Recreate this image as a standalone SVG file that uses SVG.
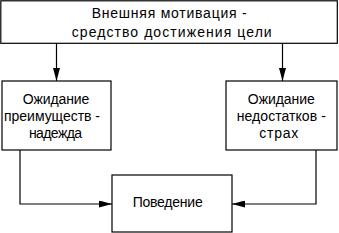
<svg xmlns="http://www.w3.org/2000/svg" width="339" height="233" viewBox="0 0 339 233">
<style>
.box{fill:#fff;stroke:#000;stroke-width:1.2}
.t{font-family:"Liberation Sans",Arial,sans-serif;font-size:14px;fill:#000;text-anchor:middle}
.c{fill:none;stroke:#000;stroke-width:1.2}
</style>
<defs>
<marker id="ah" viewBox="0 0 13 7" refX="13" refY="3.5" markerWidth="13" markerHeight="7" markerUnits="userSpaceOnUse" orient="auto">
<path d="M0,0 L13,3.5 L0,7 Z" fill="#000"/>
</marker>
</defs>
<rect width="339" height="233" fill="#fff"/>
<g id="top">
<rect class="box" x="0.8" y="0.8" width="336.5" height="42.5"/>
<text class="t" x="169.2" y="18.3" textLength="155" lengthAdjust="spacing">Внешняя мотивация -</text>
<text class="t" x="171.7" y="37.3" textLength="200" lengthAdjust="spacing">средство достижения цели</text>
</g>
<g id="left">
<rect class="box" x="2" y="81" width="109" height="69"/>
<text class="t" x="56" y="104.3" textLength="66.7" lengthAdjust="spacing">Ожидание</text>
<text class="t" x="52" y="121" textLength="96" lengthAdjust="spacing">преимуществ -</text>
<text class="t" x="55.5" y="138" textLength="53" lengthAdjust="spacing">надежда</text>
</g>
<g id="right">
<rect class="box" x="226" y="81" width="111" height="69"/>
<text class="t" x="281.3" y="104.3" textLength="67" lengthAdjust="spacing">Ожидание</text>
<text class="t" x="281.3" y="121" textLength="89" lengthAdjust="spacing">недостатков -</text>
<text class="t" x="278.8" y="138" textLength="39" lengthAdjust="spacing">страх</text>
</g>
<g id="bottom">
<rect class="box" x="112" y="175" width="120" height="57"/>
<text class="t" x="167.7" y="206.7" textLength="70" lengthAdjust="spacing">Поведение</text>
</g>
<g id="connectors">
<path class="c" d="M56.5,43.3 V81" marker-end="url(#ah)"/>
<path class="c" d="M282.5,43.3 V81" marker-end="url(#ah)"/>
<path class="c" d="M20,150 V204 H112" marker-end="url(#ah)"/>
<path class="c" d="M316,150 V204 H232" marker-end="url(#ah)"/>
</g>
</svg>
